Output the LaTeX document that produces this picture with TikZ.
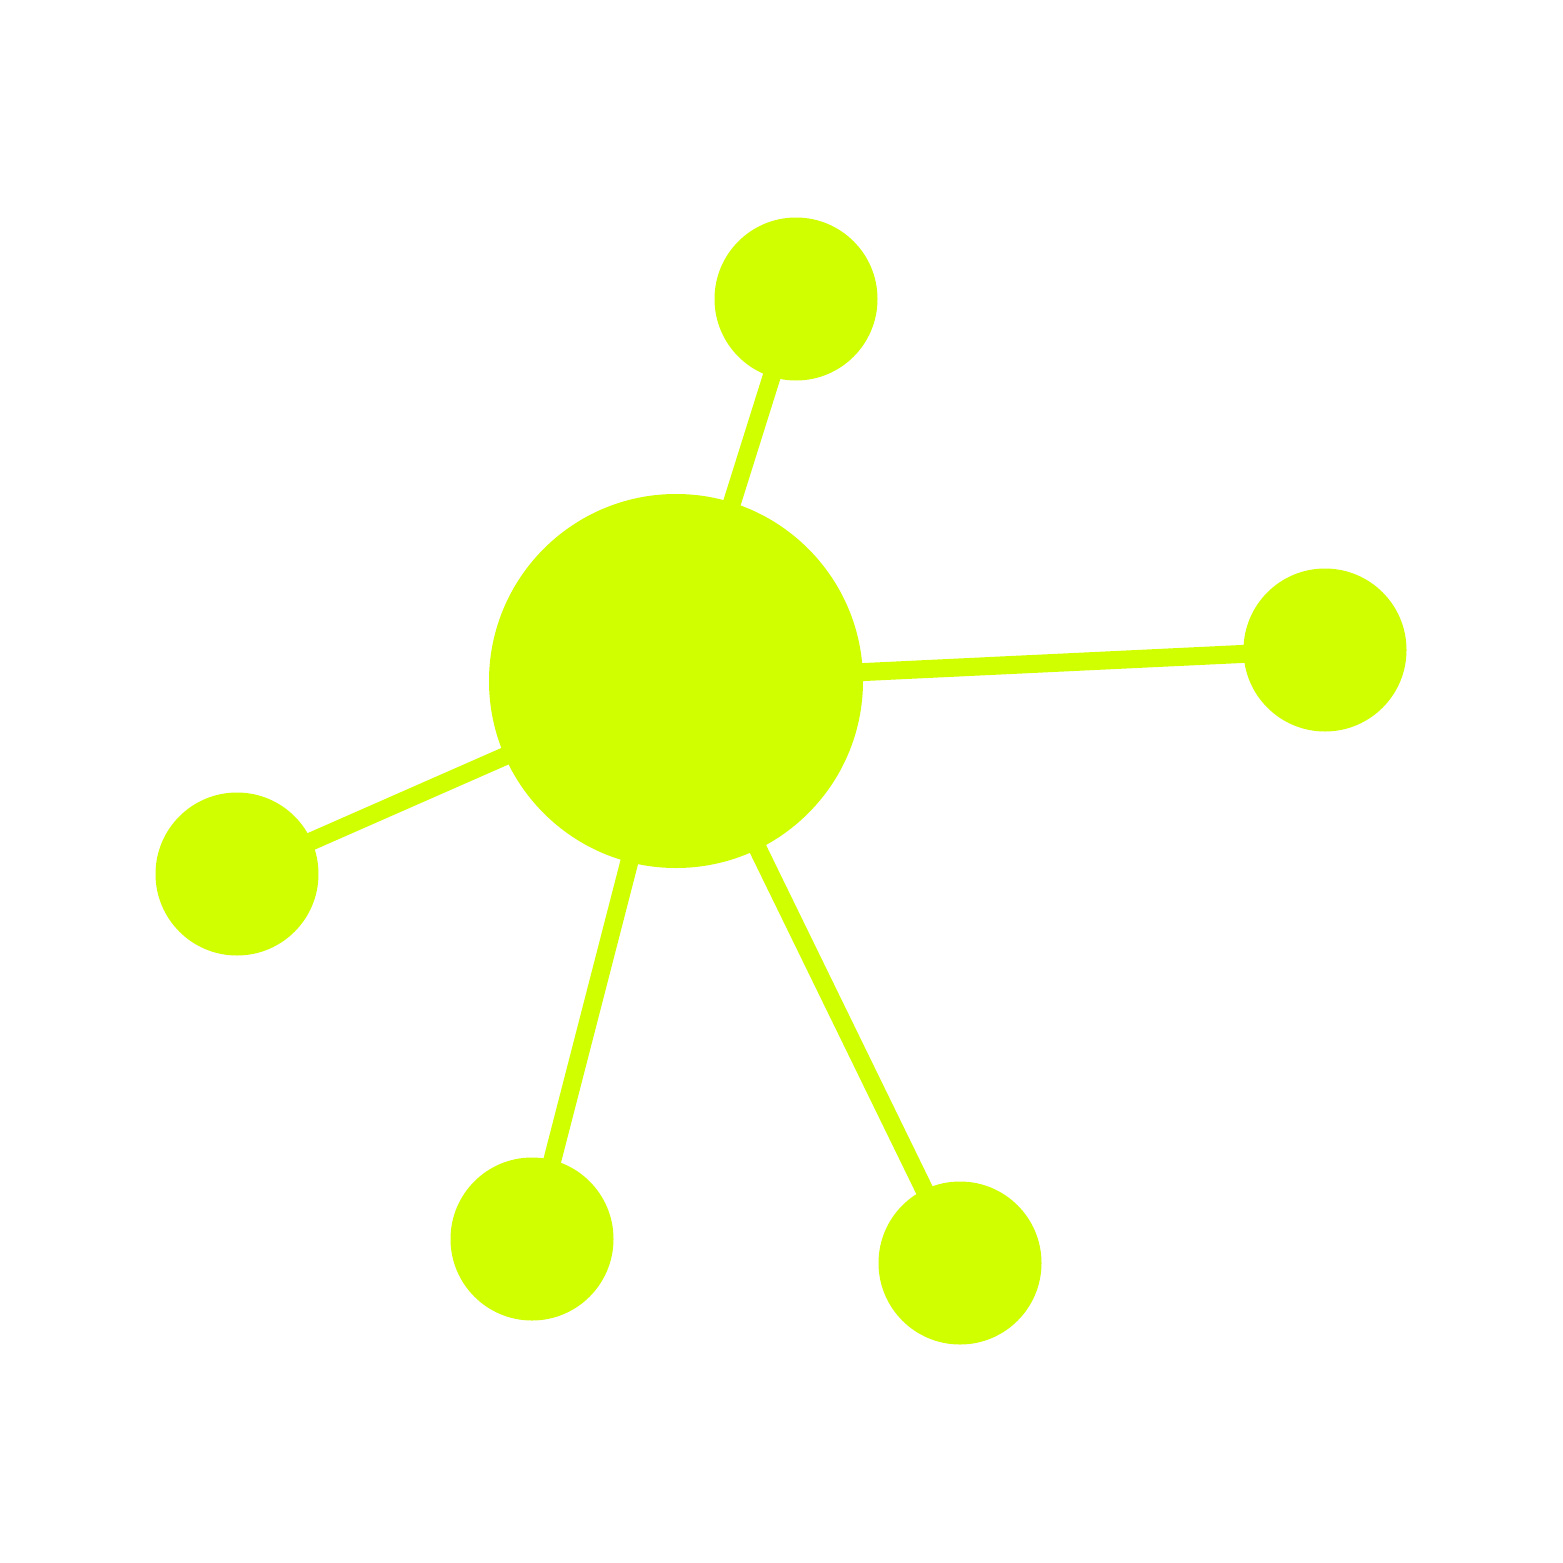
\documentclass[tikz,border=0pt]{standalone}
\definecolor{lime}{RGB}{208,255,0}
\begin{document}
\begin{tikzpicture}[x=1pt,y=-1pt,
  hub/.style={circle,fill=lime,draw=none,minimum size=374pt,inner sep=0pt},
  sat/.style={circle,fill=lime,draw=none,minimum size=163pt,inner sep=0pt},
  link/.style={draw=lime,line width=18pt}]
\useasboundingbox (0,0) rectangle (1563,1563);
\node[hub] (c) at (676,681) {};
\node[sat] (t) at (796,299) {};
\node[sat] (r) at (1325,650) {};
\node[sat] (l) at (237,874) {};
\node[sat] (bl) at (532,1239) {};
\node[sat] (br) at (960,1263) {};
\draw[link] (c.center) -- (t.center);
\draw[link] (c.center) -- (r.center);
\draw[link] (c.center) -- (l.center);
\draw[link] (c.center) -- (bl.center);
\draw[link] (c.center) -- (br.center);
\end{tikzpicture}
\end{document}
